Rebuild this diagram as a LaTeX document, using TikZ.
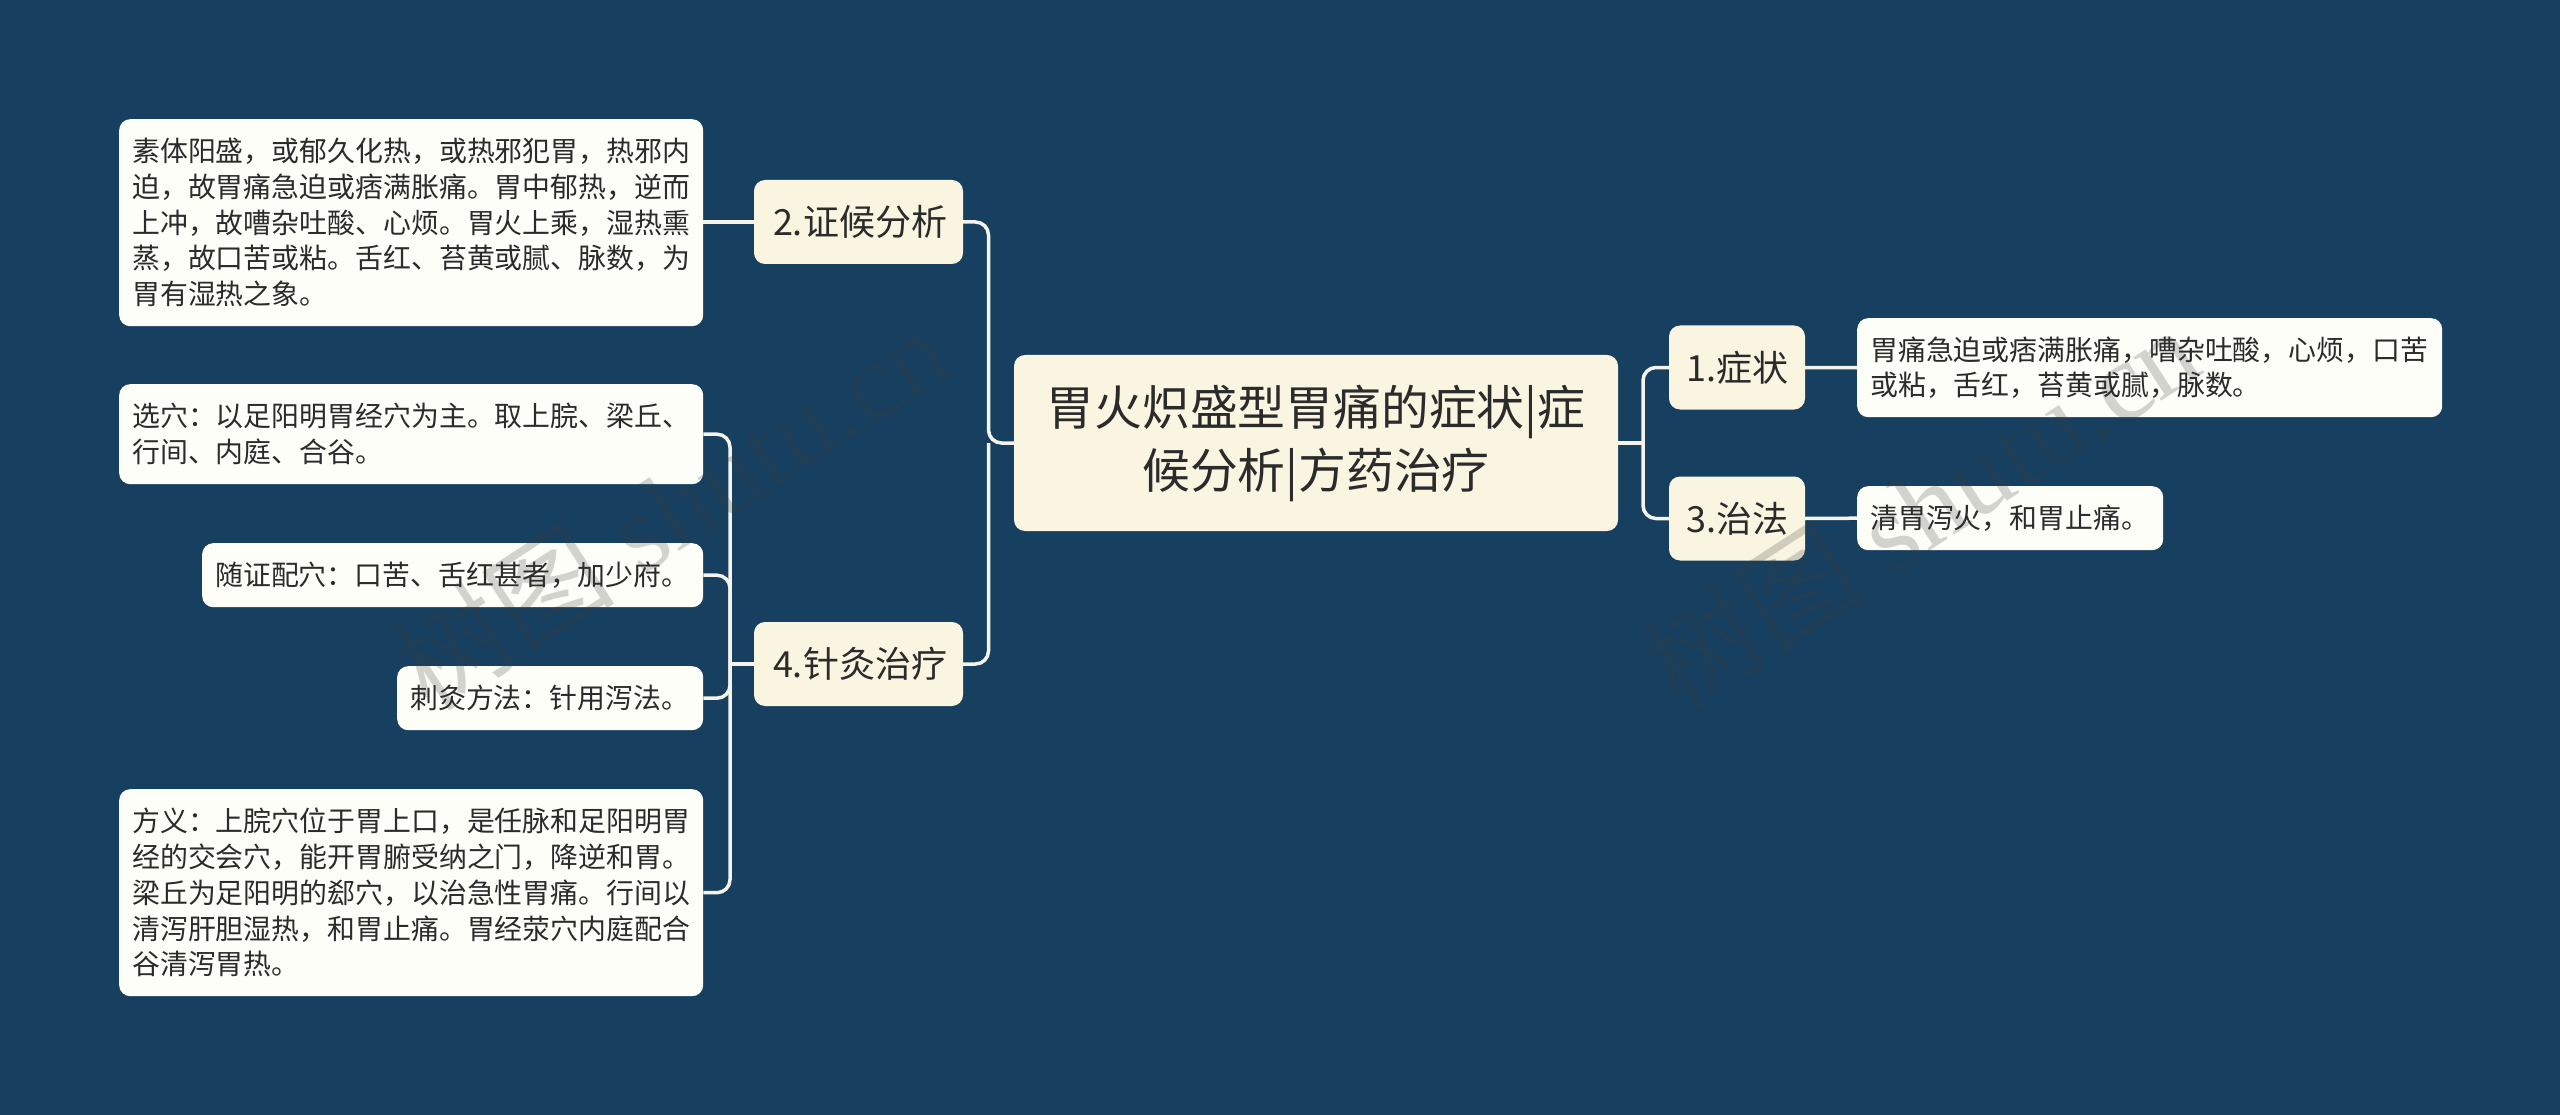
\documentclass[tikz,border=0pt]{standalone}
\usepackage{fontspec}
\setmainfont{Noto Sans CJK SC}
\newfontfamily\markfont{Liberation Serif}
\usepackage{xcolor}
\usetikzlibrary{positioning,calc}
\definecolor{navybg}{HTML}{173F5F}
\definecolor{creamfill}{HTML}{F9F5E1}
\definecolor{leaffill}{HTML}{FEFEF8}
\definecolor{linkcol}{HTML}{F4F4EC}
\definecolor{inkcol}{HTML}{2B2B2B}
\tikzset{
  rootbox/.style={fill=creamfill, text=inkcol, rounded corners=11pt, align=center, inner sep=0pt, text width=604pt, minimum height=176pt, font=\fontsize{47.8}{63}\selectfont},
  branchbox/.style={fill=creamfill, text=inkcol, rounded corners=11pt, align=center, inner sep=0pt, text width=#1, minimum height=84pt, font=\fontsize{36}{44}\selectfont},
  leafbox/.style 2 args={anchor=north west, fill=leaffill, text=inkcol, rounded corners=11pt, align=left, inner xsep=13pt, inner ysep=0pt, text width=#1, minimum height=#2, font=\fontsize{27.9}{35.7}\selectfont},
  link/.style={draw=linkcol, line width=3.5pt, rounded corners=13pt},
  stamp/.style={rotate=33, text=black!76, text opacity=.22, font=\fontsize{112}{112}\selectfont}
}
\begin{document}
\begin{tikzpicture}[x=1pt,y=-1pt]
  \fill[navybg] (0,0) rectangle (2560,1115);
  \useasboundingbox (0,0) rectangle (2560,1115);
  \coordinate (jointleft) at (988.5,443);
  \coordinate (jointright) at (1643,443);
  \coordinate (jointfour) at (730,664);
  % centre and branches
  \node (root) [rootbox] at (1316,443) {胃火炽盛型胃痛的症状|症\\候分析|方药治疗};
  \node (zhenghou) [branchbox=209pt] at (858.5,222) {\hspace{3pt}2.证候分析};
  \node (zhenjiu) [branchbox=209pt] at (858.5,664) {\hspace{3pt}4.针灸治疗};
  \node (zhengzhuang) [branchbox=136pt] at (1737,367.5) {1.症状};
  \node (zhifa) [branchbox=136pt] at (1737,518.5) {3.治法};
  % leaves
  \node (fenxi) [leafbox={558pt}{207pt}] at (119,119) {素体阳盛，或郁久化热，或热邪犯胃，热邪内\\迫，故胃痛急迫或痞满胀痛。胃中郁热，逆而\\上冲，故嘈杂吐酸、心烦。胃火上乘，湿热熏\\蒸，故口苦或粘。舌红、苔黄或腻、脉数，为\\胃有湿热之象。};
  \node (xuanxue) [leafbox={558pt}{100pt}] at (119,384) {选穴：以足阳明胃经穴为主。取上脘、梁丘、\\行间、内庭、合谷。};
  \node (peixue) [leafbox={475pt}{64pt}] at (202,543) {随证配穴：口苦、舌红甚者，加少府。};
  \node (cijiu) [leafbox={280pt}{64pt}] at (397,666) {刺灸方法：针用泻法。};
  \node (fangyi) [leafbox={558pt}{207pt}] at (119,789) {方义：上脘穴位于胃上口，是任脉和足阳明胃\\经的交会穴，能开胃腑受纳之门，降逆和胃。\\梁丘为足阳明的郄穴，以治急性胃痛。行间以\\清泻肝胆湿热，和胃止痛。胃经荥穴内庭配合\\谷清泻胃热。};
  \node (biaoxian) [leafbox={559pt}{99pt}] at (1857,318) {胃痛急迫或痞满胀痛，嘈杂吐酸，心烦，口苦\\或粘，舌红，苔黄或腻，脉数。};
  \node (qingwei) [leafbox={280pt}{64pt}] at (1857,486) {清胃泻火，和胃止痛。};
  % connectors
  \draw[link] (zhenghou.east) -| (jointleft) -- (root.west);
  \draw[link] (zhenjiu.east) -| (jointleft);
  \draw[link] (root.east) -- (jointright);
  \draw[link] (zhengzhuang.west) -| (jointright);
  \draw[link] (zhifa.west) -| (jointright);
  \draw[link] (fenxi.east |- zhenghou) -- (zhenghou.west);
  \draw[link] (jointfour) -- (zhenjiu.west);
  \foreach \leaf in {xuanxue,peixue,cijiu,fangyi}\draw[link] (\leaf.east) -| (jointfour);
  \draw[link] (zhengzhuang.east) -- (biaoxian.west);
  \draw[link] (zhifa.east) -- (qingwei.west);
  % faint stamps
  \node (stampleft) [stamp] at (670,507) {树图\markfont\ shutu.cn};
  \node (stampright) [stamp] at (1920,507) {树图\markfont\ shutu.cn};
\end{tikzpicture}
\end{document}
